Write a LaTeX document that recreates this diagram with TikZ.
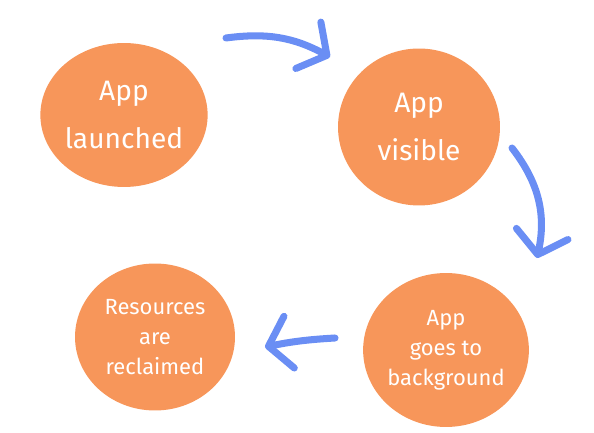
\documentclass[tikz,border=0pt]{standalone}
\usepackage{fontspec}
\setmainfont{Fira Sans}
\usetikzlibrary{arrows.meta,shapes.geometric,positioning,calc}
\definecolor{blobfill}{HTML}{F7965A}
\definecolor{arrowblue}{HTML}{6A8EF4}
\tikzset{
    blob/.style={
        ellipse,
        fill=blobfill,
        text=white,
        align=center,
        inner sep=0pt,
        font=\fontsize{16}{27}\selectfont,
    },
    smallblob/.style={
        blob,
        font=\fontsize{12.5}{17}\selectfont,
    },
    flow/.style={
        draw=arrowblue,
        line width=4pt,
        line cap=round,
        -{Straight Barb[length=12pt,width=30pt,line cap=round,line join=round]},
    },
}
\begin{document}
\begin{tikzpicture}[x=0.02cm,y=0.02cm]
    \useasboundingbox (0,0) rectangle (594,432);
    \node [blob,minimum width=3.24cm,minimum height=2.88cm] (launched) at (124,317) {App\\launched};
    \node [blob,minimum width=3.24cm,minimum height=3.14cm] (visible) at (419,305) {App\\visible};
    \node [smallblob,minimum width=3.24cm,minimum height=3.08cm] (background) at (446,82) {App\\goes to\\background};
    \node [smallblob,minimum width=3.2cm,minimum height=2.94cm] (reclaimed) at (155,95) {Resources\\are\\reclaimed};
    % the lifecycle loop
    \draw [flow] ([shift={(102,77)}]launched.center) to [bend left=18] ([shift={(-89,70)}]visible.center);
    \draw [flow] ([shift={(93,-21)}]visible.center) to [bend left=25] ([shift={(91,92)}]background.center);
    \draw [flow] ([shift={(-111,12)}]background.center) to [bend right=4] ([shift={(110,-10)}]reclaimed.center);
\end{tikzpicture}
\end{document}
